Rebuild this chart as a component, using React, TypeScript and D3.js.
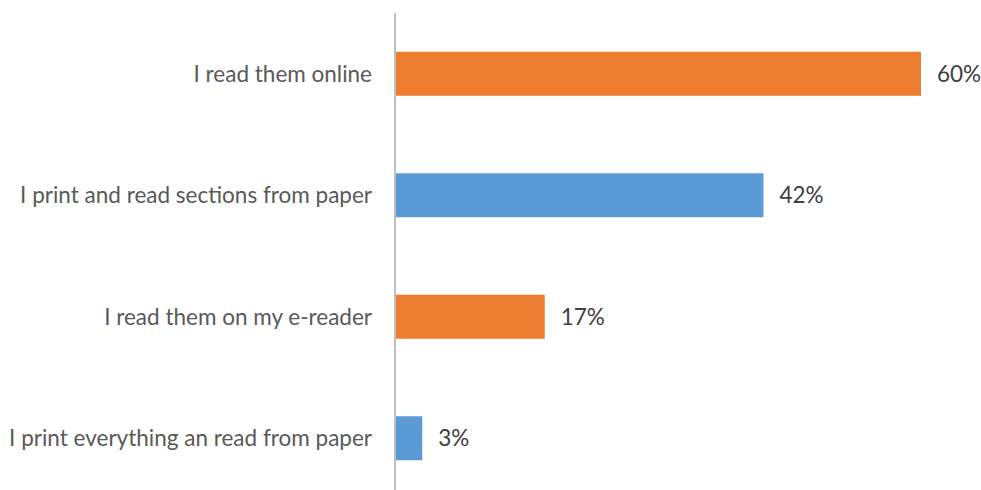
import React from "react";
import * as d3 from "d3";

const categories = [
  "I read them online",
  "I print and read sections from paper",
  "I read them on my e-reader",
  "I print everything an read from paper",
];
const values = [60, 42, 17, 3];
const barColors = ["#ED7D31", "#5B9BD5", "#ED7D31", "#5B9BD5"];

const W = 981;
const H = 490;

export default function App() {
  const x = d3.scaleLinear().domain([0, 60]).range([396, 921]);
  const y = d3
    .scaleBand<string>()
    .domain(categories)
    .range([13, 499])
    .paddingInner(0.638)
    .paddingOuter(0.319);
  const font = "Lato, 'Noto Sans', sans-serif";
  return (
    <svg
      width={W}
      height={H}
      style={{ position: "absolute", left: 0, top: 0, background: "#fff" }}
    >
      {categories.map((c, i) => {
        const yy = y(c)!;
        const bw = y.bandwidth();
        return (
          <g key={c}>
            <rect
              x={x(0)}
              y={yy}
              width={x(values[i]) - x(0)}
              height={bw}
              fill={barColors[i]}
            />
            <text
              x={372}
              y={yy + bw / 2}
              dy="0.35em"
              textAnchor="end"
              fill="#595959"
              fontFamily={font}
              fontSize={22.5}
            >
              {c}
            </text>
            <text
              x={x(values[i]) + 16}
              y={yy + bw / 2}
              dy="0.35em"
              textAnchor="start"
              fill="#404040"
              fontFamily={font}
              fontSize={22.5}
            >
              {values[i]}%
            </text>
          </g>
        );
      })}
      <line x1={395} x2={395} y1={13} y2={H} stroke="#BFBFBF" strokeWidth={2} />
    </svg>
  );
}
